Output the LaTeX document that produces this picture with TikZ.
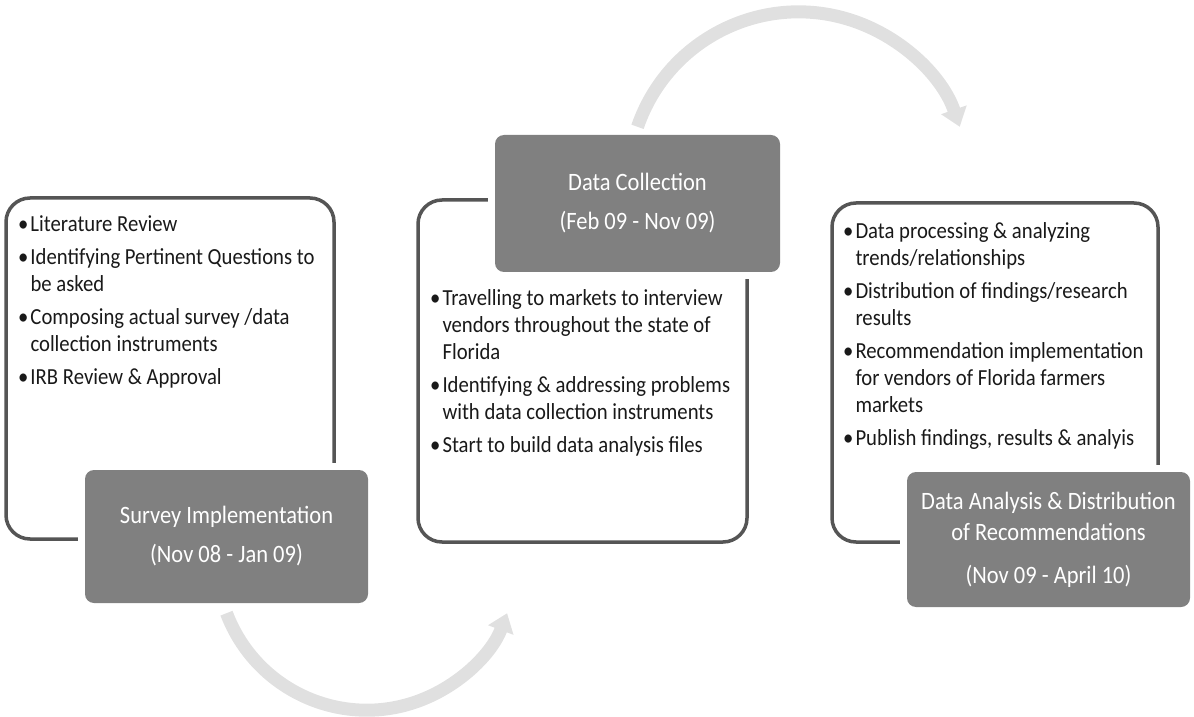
\documentclass[tikz,border=0pt]{standalone}
\usepackage{fontspec}
\setmainfont[FakeStretch=0.9]{Carlito}
\usetikzlibrary{arrows.meta}
\definecolor{phasegray}{RGB}{128,128,128}
\definecolor{framegray}{RGB}{85,85,85}
\definecolor{arcgray}{RGB}{224,224,224}
\definecolor{textgray}{RGB}{25,25,25}
\newcommand{\bul}{\textbullet}

\begin{document}
\begin{tikzpicture}[x=1pt,y=1pt,
    frame/.style={draw=framegray,line width=3.5pt,rounded corners=24pt,inner sep=0pt},
    phase/.style={fill=phasegray,rounded corners=9pt,text=white,align=center,inner sep=0pt,
        font=\fontsize{25}{31}\selectfont,preaction={draw=white,line width=14pt}},
    tasks/.style={anchor=north west,inner sep=0pt,text=textgray,font=\fontsize{23}{27}\selectfont},
    loop/.style={arcgray,line width=13pt,-{Triangle[width=26pt,length=18pt]}}]
        \useasboundingbox (0,0) rectangle (1194,716);

        % Outline frames
        \node[frame,minimum width=328pt,minimum height=341pt] (leftframe) at (170,347.5) {};
        \node[frame,minimum width=329pt,minimum height=342pt] (midframe) at (582.5,345) {};
        \node[frame,minimum width=326pt,minimum height=339pt] (rightframe) at (995,343.5) {};

        % Task lists
        \node[tasks] (lefttasks) at (18,504) {\begin{tabular}{@{}l@{\hspace{2pt}}l@{}}
            \bul & Literature Review\\[6pt]
            \bul & Identifying Pertinent Questions to\\
                 & be asked\\[6pt]
            \bul & Composing actual survey /data\\
                 & collection instruments\\[6pt]
            \bul & IRB Review \& Approval
        \end{tabular}};
        \node[tasks] (midtasks) at (430,430) {\begin{tabular}{@{}l@{\hspace{2pt}}l@{}}
            \bul & Travelling to markets to interview\\
                 & vendors throughout the state of\\
                 & Florida\\[6pt]
            \bul & Identifying \& addressing problems\\
                 & with data collection instruments\\[6pt]
            \bul & Start to build data analysis files
        \end{tabular}};
        \node[tasks] (righttasks) at (843,497) {\begin{tabular}{@{}l@{\hspace{2pt}}l@{}}
            \bul & Data processing \& analyzing\\
                 & trends/relationships\\[6pt]
            \bul & Distribution of findings/research\\
                 & results\\[6pt]
            \bul & Recommendation implementation\\
                 & for vendors of Florida farmers\\
                 & markets\\[6pt]
            \bul & Publish findings, results \& analyis
        \end{tabular}};

        % Phase boxes
        \node[phase,minimum width=283pt,minimum height=133pt] (survey) at (226.5,179.5)
            {Survey Implementation\\[8pt](Nov 08 - Jan 09)};
        \node[phase,minimum width=285pt,minimum height=137pt] (collect) at (637.5,512.5)
            {Data Collection\\[8pt](Feb 09 - Nov 09)};
        \node[phase,minimum width=283pt,minimum height=135pt] (analysis) at (1048.5,176.5)
            {Data Analysis \& Distribution\\of Recommendations\\[12pt](Nov 09 - April 10)};

        % Curved arrows
        \coordinate (lowstart) at ([yshift=-10pt]survey.south);
        \coordinate (highstart) at ([yshift=8pt]collect.north);
        \draw[loop] (lowstart) arc[start angle=200.7,end angle=339.3,radius=150];
        \draw[loop] (highstart) arc[start angle=161,end angle=19,radius=170.4];
\end{tikzpicture}
\end{document}
